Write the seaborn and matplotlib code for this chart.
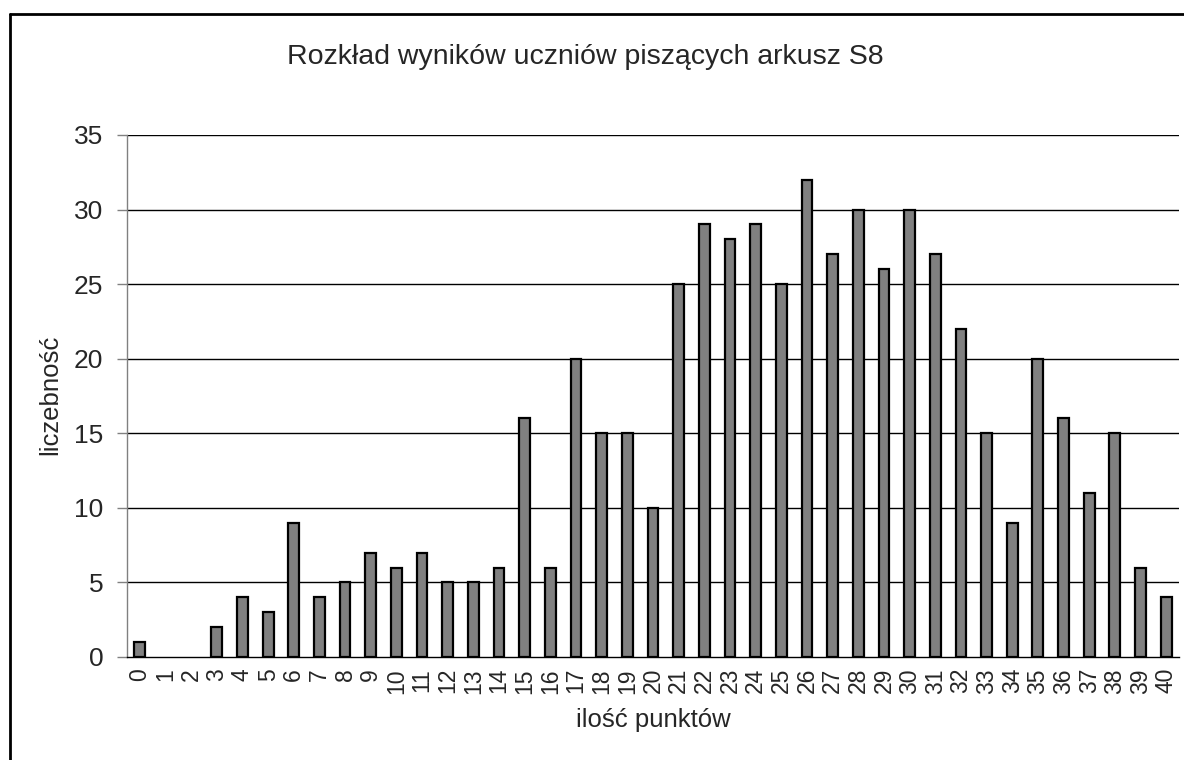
import numpy as np
import pandas as pd
import seaborn as sns
import matplotlib
matplotlib.use("Agg")
import matplotlib.pyplot as plt
from matplotlib.lines import Line2D

# ----------------------------------------------------------------------
# data
# ----------------------------------------------------------------------
points = list(range(0, 41))
counts = [1, 0, 0, 2, 4, 3, 9, 4, 5, 7,
          6, 7, 5, 5, 6, 16, 6, 20, 15, 15,
          10, 25, 29, 28, 29, 25, 32, 27, 30, 26,
          30, 27, 22, 15, 9, 20, 16, 11, 15, 6, 4]
y_ticks = [0, 5, 10, 15, 20, 25, 30, 35]

title = "Rozkład wyników uczniów piszących arkusz S8"
x_label = "ilość punktów"
y_label = "liczebność"

df = pd.DataFrame({"punkty": [str(p) for p in points], "liczba": counts})

sns.set_style("white")
plt.rcParams["font.family"] = ["Liberation Sans", "DejaVu Sans"]

fig = plt.figure(figsize=(11.84, 7.6), dpi=100)
ax = fig.add_axes([127 / 1184, 1 - 657 / 760, (1179 - 127) / 1184, (657 - 135) / 760])

sns.barplot(data=df, x="punkty", y="liczba", order=df["punkty"],
            color="#808080", saturation=1, width=0.42,
            edgecolor="black", linewidth=1.6, ax=ax, zorder=3)

# empty categories get no outline stub
for patch in ax.patches:
    if patch.get_height() == 0:
        patch.set_visible(False)

ax.set_xlim(-0.5, len(points) - 0.5)
ax.set_ylim(0, 35)
ax.set_yticks(y_ticks)
ax.set_yticklabels([str(t) for t in y_ticks], fontsize=19)

# horizontal gridlines
for t in y_ticks[1:]:
    ax.axhline(t, color="black", lw=1, zorder=1)

# category ticks sit between the bars, labels under the bars
ax.set_xticks(np.arange(-0.5, len(points), 1.0), minor=True)
ax.set_xticklabels([str(p) for p in points], rotation=90, fontsize=16.5)
ax.tick_params(axis="x", which="major", length=0, pad=8)
ax.tick_params(axis="x", which="minor", length=7, width=1, color="#808080", direction="out")
ax.tick_params(axis="y", length=7, width=1, color="#808080", direction="out", left=True, pad=10)

for side in ["top", "right"]:
    ax.spines[side].set_visible(False)
ax.spines["left"].set_color("#808080")
ax.spines["bottom"].set_color("black")
ax.spines["left"].set_linewidth(1)
ax.spines["bottom"].set_linewidth(1)

ax.set_xlabel("")
ax.set_ylabel("")
fig.text(653 / 1184, 1 - 720 / 760, x_label, fontsize=18.5, ha="center", va="center")
fig.text(50 / 1184, 1 - 395 / 760, y_label, fontsize=18.5, ha="center", va="center", rotation=90)
fig.text(585 / 1184, 1 - 57 / 760, title, fontsize=20.5, ha="center", va="center")

# outer chart frame (only left and top visible in the reference)
fig.add_artist(Line2D([10 / 1184, 10 / 1184], [0, 1 - 14 / 760], color="black", lw=2, transform=fig.transFigure))
fig.add_artist(Line2D([10 / 1184, 1], [1 - 14 / 760, 1 - 14 / 760], color="black", lw=2, transform=fig.transFigure))

fig.savefig("out.png", dpi=100)
